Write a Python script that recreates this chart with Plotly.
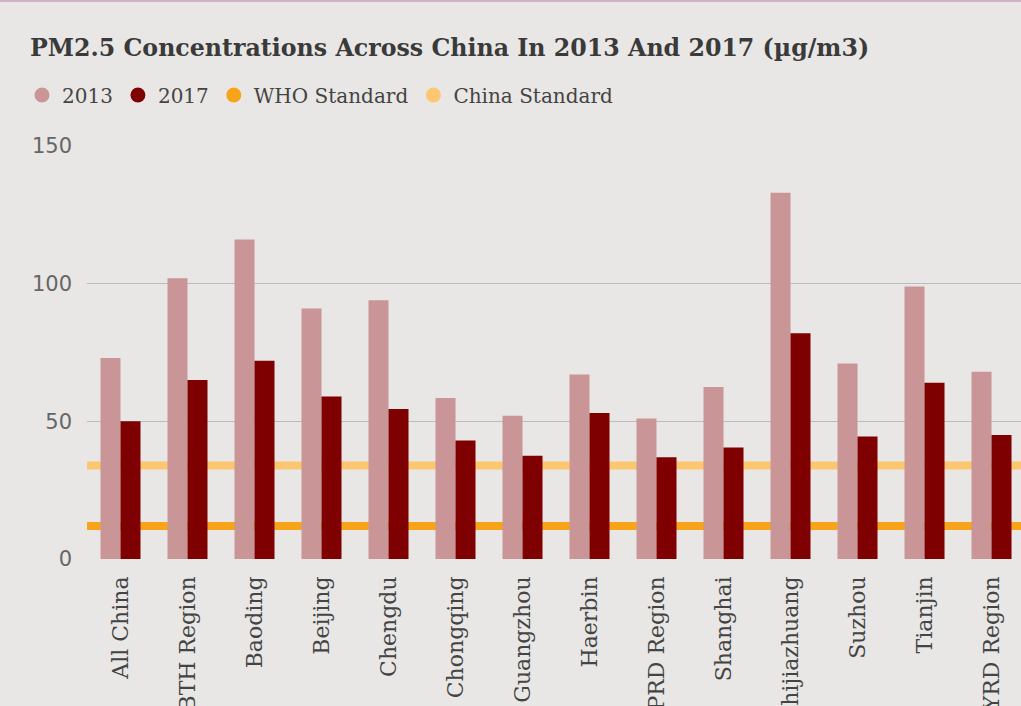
import plotly.graph_objects as go

categories = ["All China", "BTH Region", "Baoding", "Beijing", "Chengdu", "Chongqing",
              "Guangzhou", "Haerbin", "PRD Region", "Shanghai", "Shijiazhuang",
              "Suzhou", "Tianjin", "YRD Region"]
pm2013 = [73, 102, 116, 91, 94, 58.5, 52, 67, 51, 62.5, 133, 71, 99, 68]
pm2017 = [50, 65, 72, 59, 54.5, 43, 37.5, 53, 37, 40.5, 82, 44.5, 64, 45]
who_standard = 12
china_standard = 34
y_ticks = [0, 50, 100, 150]

BG = "#e8e7e5"
C2013 = "#c99597"
C2017 = "#7f0000"
CWHO = "#f8a41b"
CCHINA = "#fdc671"

fig = go.Figure()
fig.add_trace(go.Bar(x=categories, y=pm2013, name="2013", marker=dict(color=C2013, line_width=0),
                     showlegend=False))
fig.add_trace(go.Bar(x=categories, y=pm2017, name="2017", marker=dict(color=C2017, line_width=0),
                     showlegend=False))

# legend entries (circles)
for nm, col in [("2013", C2013), ("2017", C2017), ("WHO Standard", CWHO), ("China Standard", CCHINA)]:
    fig.add_trace(go.Scatter(x=[None], y=[None], mode="markers", name=nm,
                             marker=dict(color=col, size=15, symbol="circle")))

for val, col in [(china_standard, CCHINA), (who_standard, CWHO)]:
    fig.add_shape(type="line", xref="paper", yref="y", x0=0, x1=1, y0=val, y1=val,
                  line=dict(color=col, width=8), layer="below")

# top border
fig.add_shape(type="line", xref="paper", yref="paper", x0=-0.2, x1=1.2,
              y0=1 + 145.5 / 413, y1=1 + 145.5 / 413,
              line=dict(color="#cfb2c5", width=3), layer="above")

fig.update_layout(
    width=1021, height=706,
    paper_bgcolor=BG, plot_bgcolor=BG,
    margin=dict(l=87, r=0, t=146, b=147, autoexpand=False),
    barmode="group", bargap=0.403, bargroupgap=0,
    title=dict(text="PM2.5 Concentrations Across China In 2013 And 2017 (µg/m3)",
               x=30 / 1021, xref="container", xanchor="left",
               y=1 - 48 / 706, yref="container", yanchor="middle",
               font=dict(family="DejaVu Serif", size=23.7, color="#3a3a3a", weight="bold")),
    legend=dict(orientation="h", xref="container", yref="container",
                x=22 / 1021, xanchor="left", y=1 - 95 / 706, yanchor="middle",
                font=dict(family="DejaVu Serif", size=20, color="#444444"),
                bgcolor="rgba(0,0,0,0)", itemclick=False),
    xaxis=dict(range=[-0.5, 13.44], tickangle=-90, showgrid=False, zeroline=False,
               showline=False, ticks="", automargin=False, ticklabelstandoff=12,
               tickfont=dict(family="DejaVu Serif", size=22, color="#444444")),
    yaxis=dict(range=[0, 150], tickvals=y_ticks, showgrid=True, gridcolor="#bcbcbc",
               gridwidth=1, zeroline=True, zerolinecolor=BG, zerolinewidth=2,
               showline=False, ticks="", automargin=False, ticklabelstandoff=14,
               tickfont=dict(family="DejaVu Sans", size=21, color="#666666")),
)

fig.write_html("out.html")
